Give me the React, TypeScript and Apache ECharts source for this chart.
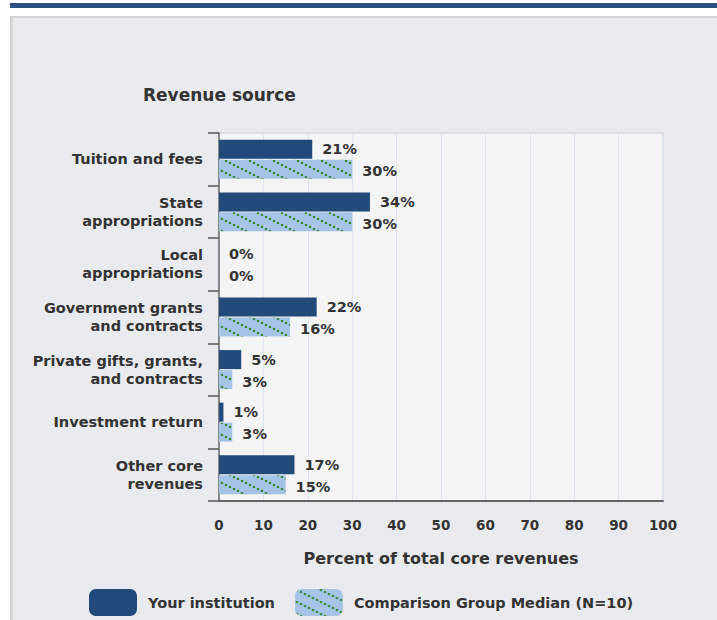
import React, { useEffect, useRef } from "react";
import * as echarts from "echarts";

const categories = [
  "Tuition and fees",
  "State\nappropriations",
  "Local\nappropriations",
  "Government grants\nand contracts",
  "Private gifts, grants,\nand contracts",
  "Investment return",
  "Other core\nrevenues",
];
const institutionValues = [21, 34, 0, 22, 5, 1, 17];
const comparisonValues = [30, 30, 0, 16, 3, 3, 15];
const seriesNames = ["Your institution", "Comparison Group Median (N=10)"];
const chartTitle = "Revenue source";
const xAxisTitle = "Percent of total core revenues";

const FONT = "DejaVu Sans";
const TEXT = "#333333";

function makePattern(): HTMLCanvasElement {
  const c = document.createElement("canvas");
  c.width = 24;
  c.height = 12;
  const ctx = c.getContext("2d")!;
  ctx.fillStyle = "#a6c4e8";
  ctx.fillRect(0, 0, 24, 12);
  ctx.fillStyle = "#3a8a40";
  for (let i = 0; i < 6; i++) {
    ctx.beginPath();
    ctx.arc(2 + 4 * i, 1 + 2 * i, 1.35, 0, Math.PI * 2);
    ctx.fill();
  }
  return c;
}

export default function App() {
  const ref = useRef<HTMLDivElement>(null);
  useEffect(() => {
    document.body.style.margin = "0";
    const chart = echarts.init(ref.current!, undefined, { renderer: "svg" });
    const pattern = { image: makePattern(), repeat: "repeat" } as any;
    const labelStyle = {
      show: true,
      position: "right",
      distance: 10,
      formatter: "{c}%",
      color: TEXT,
      fontFamily: FONT,
      fontWeight: "bold",
      fontSize: 14.5,
    } as any;
    chart.setOption({
      animation: false,
      backgroundColor: "#ffffff",
      graphic: [
        { type: "rect", shape: { x: 10, y: 3, width: 707, height: 5 }, style: { fill: "#2b5282" }, z: -10 },
        { type: "rect", shape: { x: 10, y: 16, width: 707, height: 604 }, style: { fill: "#d3d4d7" }, z: -10 },
        { type: "rect", shape: { x: 13, y: 18, width: 704, height: 602 }, style: { fill: "#e9eaee" }, z: -9 },
        {
          type: "text",
          x: 143,
          y: 95,
          style: {
            text: chartTitle,
            fill: TEXT,
            font: `bold 17px "${FONT}"`,
            textVerticalAlign: "middle",
          },
        },
      ],
      grid: {
        left: 219,
        top: 133,
        right: 54,
        bottom: 119,
        show: true,
        backgroundColor: "#f4f4f5",
        borderColor: "#c9ccd4",
        borderWidth: 1,
      },
      legend: {
        left: 89,
        top: 589,
        padding: 0,
        itemWidth: 48,
        itemHeight: 27,
        itemGap: 20,
        icon: "roundRect",
        textStyle: {
          color: TEXT,
          fontFamily: FONT,
          fontWeight: "bold",
          fontSize: 14.5,
          padding: [0, 0, 0, 6],
        },
        data: seriesNames,
      },
      xAxis: {
        type: "value",
        min: 0,
        max: 100,
        interval: 10,
        name: xAxisTitle,
        nameLocation: "middle",
        nameGap: 49,
        nameTextStyle: { color: TEXT, fontFamily: FONT, fontWeight: "bold", fontSize: 16 },
        axisLine: { show: true, lineStyle: { color: "#666", width: 2 } },
        axisTick: { show: false },
        axisLabel: { color: TEXT, fontFamily: FONT, fontWeight: "bold", fontSize: 13.5, margin: 17 },
        splitLine: { show: true, lineStyle: { color: "#dde3ee", width: 1 } },
      },
      yAxis: {
        type: "category",
        data: categories,
        inverse: true,
        axisLine: { show: true, lineStyle: { color: "#6a6a6a", width: 1.5 } },
        axisTick: { show: true, length: 11, lineStyle: { color: "#555", width: 1.5 } },
        axisLabel: {
          color: TEXT,
          fontFamily: FONT,
          fontWeight: "bold",
          fontSize: 14.5,
          lineHeight: 18,
          margin: 16,
          align: "right",
        },
        splitLine: { show: false },
      },
      series: [
        {
          name: seriesNames[0],
          type: "bar",
          data: institutionValues,
          barWidth: 19,
          barGap: "5%",
          itemStyle: { color: "#224b7b" },
          label: { ...labelStyle, offset: [0, 0] },
        },
        {
          name: seriesNames[1],
          type: "bar",
          data: comparisonValues,
          barWidth: 19,
          itemStyle: { color: pattern },
          label: { ...labelStyle, offset: [0, 2] },
        },
      ],
    });
    return () => chart.dispose();
  }, []);
  return <div ref={ref} style={{ width: 717, height: 620 }} />;
}
